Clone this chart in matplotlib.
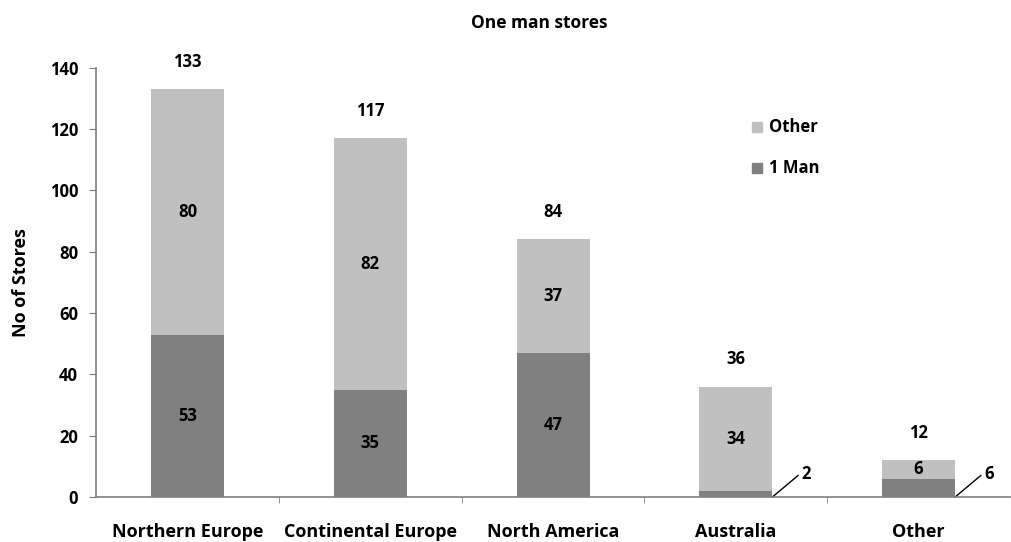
import matplotlib
matplotlib.use("Agg")
import matplotlib.pyplot as plt
from matplotlib.patches import Rectangle
import numpy as np

categories = ["Northern Europe", "Continental Europe", "North America", "Australia", "Other"]
one_man = [53, 35, 47, 2, 6]
other = [80, 82, 37, 34, 6]
totals = [133, 117, 84, 36, 12]

dark = "#808080"
light = "#c0c0c0"
plt.rcParams["font.family"] = ["Open Sans", "DejaVu Sans"]
plt.rcParams["font.weight"] = "bold"

fig = plt.figure(figsize=(10.12, 5.42), dpi=100)
ax = fig.add_axes([0.095, 0.083, 0.903, 0.792])

x = np.arange(len(categories))
w = 0.4
ax.bar(x, one_man, w, color=dark, label="1 Man")
ax.bar(x, other, w, bottom=one_man, color=light, label="Other")

fs = 12
for i in range(len(categories)):
    ax.text(x[i], totals[i] + 9, str(totals[i]), ha="center", va="center",
            fontsize=fs, fontweight="bold")
    ax.text(x[i], one_man[i] + other[i] / 2, str(other[i]), ha="center",
            va="center", fontsize=fs, fontweight="bold")
    if one_man[i] >= 10:
        ax.text(x[i], one_man[i] / 2, str(one_man[i]), ha="center",
                va="center", fontsize=fs, fontweight="bold")
    else:
        # leader line for small segment
        x0 = x[i] + w / 2
        x1 = x0 + 0.14
        ax.plot([x0, x1], [0, 7], color="black", lw=1, clip_on=False)
        ax.text(x1 + 0.02, 7.5, str(one_man[i]), ha="left", va="center",
                fontsize=fs, fontweight="bold")

ax.set_xlim(-0.5, len(categories) - 0.5)
ax.set_ylim(0, 140)
ax.set_yticks(range(0, 141, 20))
ax.set_xticks(x)
ax.set_xticklabels(categories, fontsize=13, fontweight="bold")
ax.set_xticks(np.arange(0.5, len(categories) - 0.5, 1), minor=True)
ax.tick_params(axis="x", which="major", length=0, pad=19)
ax.tick_params(axis="x", which="minor", length=4, color=dark)
ax.tick_params(axis="y", length=5, color=dark, labelsize=12, pad=8)
for lab in ax.get_yticklabels():
    lab.set_fontweight("bold")

ax.spines["top"].set_visible(False)
ax.spines["right"].set_visible(False)
ax.spines["left"].set_color(dark)
ax.spines["bottom"].set_color(dark)
ax.spines["left"].set_linewidth(1.2)
ax.spines["bottom"].set_linewidth(1.2)

ax.set_ylabel("No of Stores", fontsize=13, fontweight="bold", labelpad=14)
fig.text(0.533, 0.957, "One man stores", ha="center", va="center",
         fontsize=12.5, fontweight="bold")

# legend drawn by hand to match layout
leg_items = [("Other", light, 0.766), ("1 Man", dark, 0.690)]
for txt, col, fy in leg_items:
    fig.patches.append(Rectangle((0.743, fy - 0.010), 0.0095, 0.019,
                                 transform=fig.transFigure, color=col))
    fig.text(0.760, fy, txt, ha="left", va="center", fontsize=12,
             fontweight="bold")

fig.savefig("out.png", dpi=100)
